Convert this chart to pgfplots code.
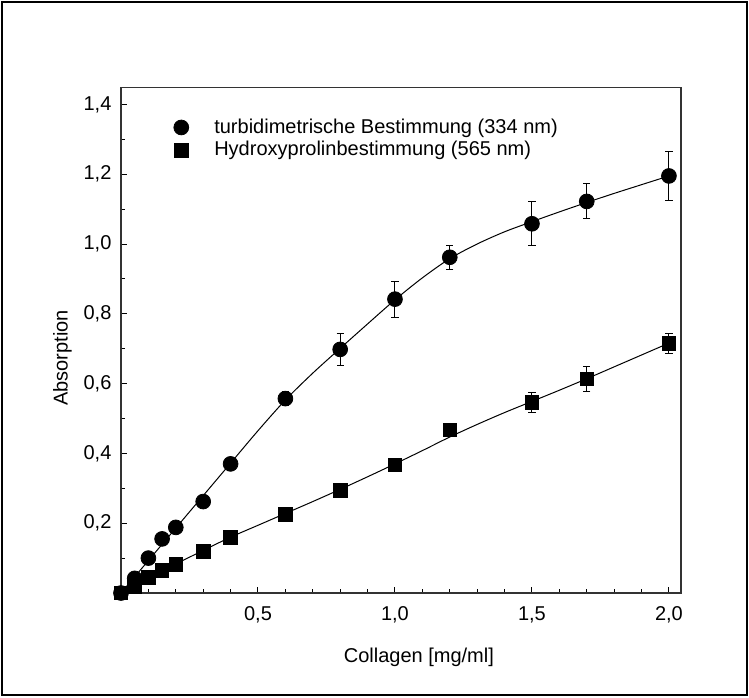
\documentclass[border=0pt]{standalone}
\usepackage{fontspec}
\setmainfont{Liberation Sans}
\usepackage{pgfplots}
\usepackage{pgfplotstable}
\pgfplotsset{compat=1.18}
% measured points (x, absorption, error)
\pgfplotstableread{
x    y      e
0    0      0
0.05 0.042  0
0.1  0.100  0
0.15 0.155  0
0.2  0.188  0
0.3  0.262  0
0.4  0.370  0
0.6  0.557  0.02
0.8  0.698  0.046
1.0  0.842  0.052
1.2  0.962  0.035
1.5  1.058  0.063
1.7  1.122  0.05
2.0  1.195  0.07
}\turb
\pgfplotstableread{
x    y      e
0    0      0
0.05 0.018  0
0.1  0.045  0
0.15 0.064  0
0.2  0.082  0
0.3  0.120  0
0.4  0.160  0
0.6  0.226  0
0.8  0.294  0
1.0  0.367  0
1.2  0.467  0
1.5  0.546  0.028
1.7  0.613  0.036
2.0  0.716  0.029
}\hyp
% fitted curves
\pgfplotstableread{
x   y
0   0
0.1 0.093
0.2 0.186
0.3 0.279
0.4 0.372
0.5 0.465
0.6 0.553
0.7 0.630
0.8 0.701
0.9 0.771
1.0 0.840
1.1 0.903
1.2 0.958
1.3 1.000
1.4 1.035
1.5 1.064
1.6 1.092
1.7 1.119
1.8 1.145
1.9 1.170
2.0 1.195
}\turbfit
\pgfplotstableread{
x   y
0   0
0.1 0.042
0.2 0.083
0.3 0.122
0.4 0.160
0.5 0.194
0.6 0.228
0.7 0.262
0.8 0.297
0.9 0.333
1.0 0.370
1.1 0.408
1.2 0.447
1.3 0.483
1.4 0.517
1.5 0.549
1.6 0.581
1.7 0.614
1.8 0.648
1.9 0.682
2.0 0.716
}\hypfit
\begin{document}
\fontsize{10pt}{12pt}\selectfont
\begin{tikzpicture}
\useasboundingbox (-60.5pt,-52pt) rectangle (314pt,296.5pt);
\draw[line width=0.75pt] (-59.5pt,-51pt) rectangle (313pt,295.5pt);
\begin{axis}[
  at={(0,0)}, anchor=south west,
  scale only axis, width=280pt, height=252.85pt,
  xmin=0, xmax=2.044, ymin=0, ymax=1.449,
  clip=false,
  axis line style={black!80, line width=0.6pt},
  tick align=inside, xtick pos=bottom, ytick pos=left,
  xtick={0.5,1,1.5,2}, ytick={0.2,0.4,0.6,0.8,1.0,1.2,1.4},
  minor xtick={0.1,0.2,0.3,0.4,0.6,0.7,0.8,0.9,1.1,1.2,1.3,1.4,1.6,1.7,1.8,1.9},
  minor ytick={0.1,0.3,0.5,0.7,0.9,1.1,1.3},
  major tick length=3.2pt, minor tick length=1.8pt,
  every tick/.style={black, line width=0.5pt},
  /pgf/number format/use comma,
  /pgf/number format/fixed,
  /pgf/number format/fixed zerofill,
  /pgf/number format/precision=1,
  /pgf/number format/assume math mode=true,
  every x tick label/.append style={anchor=base, yshift=-13.8pt},
  every y tick label/.append style={anchor=east, inner sep=0pt, xshift=-4.6pt},
  xlabel={Collagen [mg/ml]},
  ylabel={Absorption},
  label style={font=\fontsize{11.3pt}{13pt}\selectfont},
  every axis x label/.style={at={(axis description cs:0.532,-0.1266)}, anchor=center},
  every axis y label/.style={at={(axis description cs:-0.1045,0.4647)}, rotate=90, anchor=center},
  legend style={at={(axis cs:0.1916,1.363)}, anchor=north west, draw=none, fill=none,
    inner sep=0pt, row sep=1.6pt, nodes={inner sep=0.5pt},
    /tikz/every odd column/.append style={column sep=12.3pt}},
  legend cell align=left,
  legend image code/.code={\draw[#1] plot coordinates {(0pt,0pt)};},
]
\addlegendimage{only marks, mark=*, mark size=3.7pt, black}
\addlegendentry{turbidimetrische Bestimmung (334 nm)}
\addlegendimage{only marks, mark=square*, mark size=3.4pt, black}
\addlegendentry{Hydroxyprolinbestimmung (565 nm)}

\addplot[smooth, line width=0.5pt, black, no marks, forget plot] table[x=x,y=y] {\turbfit};
\addplot[smooth, line width=0.5pt, black, no marks, forget plot] table[x=x,y=y] {\hypfit};

\addplot[only marks, mark=*, mark size=3.7pt, black, forget plot,
  error bars/.cd, y dir=both, y explicit,
  error bar style={line width=0.5pt},
  error mark options={rotate=90, mark size=1.8pt, line width=0.5pt}]
  table[x=x, y=y, y error=e] {\turb};
\addplot[only marks, mark=square*, mark size=3.4pt, black, forget plot,
  error bars/.cd, y dir=both, y explicit,
  error bar style={line width=0.5pt},
  error mark options={rotate=90, mark size=1.8pt, line width=0.5pt}]
  table[x=x, y=y, y error=e] {\hyp};
\end{axis}
\end{tikzpicture}
\end{document}
